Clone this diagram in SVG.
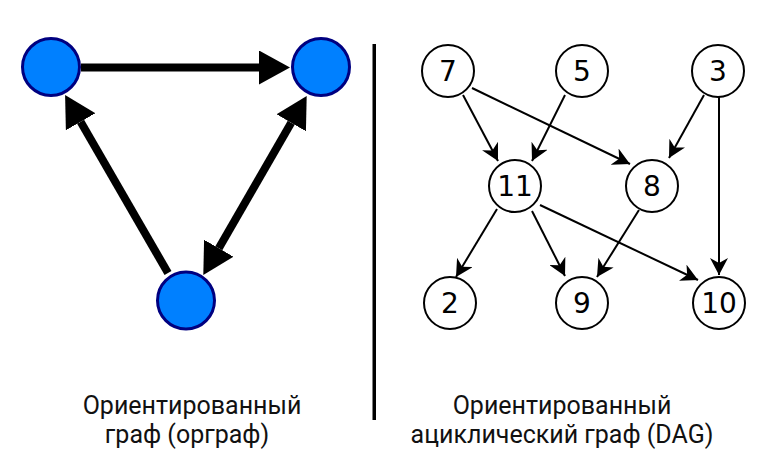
<svg xmlns="http://www.w3.org/2000/svg" width="775" height="465" viewBox="0 0 775 465">
<style>
.bn{fill:#0080ff;stroke:#000080;stroke-width:3}
.dn{fill:#fff;stroke:#000;stroke-width:2}
.big{stroke:#000;stroke-width:8;fill:none}
.thin{stroke:#000;stroke-width:2;fill:none;marker-end:url(#sm)}
.num{font-family:"DejaVu Sans",Verdana,sans-serif;font-size:28px;text-anchor:middle;fill:#000}
.lab{font-family:Roboto,"Liberation Sans",sans-serif;font-size:25px;text-anchor:middle;fill:#111}
</style>
<defs>
<marker id="bg" viewBox="0 0 31 34" refX="0" refY="17" markerWidth="31" markerHeight="34" markerUnits="userSpaceOnUse" orient="auto-start-reverse"><path d="M0,0 L31,17 L0,34 z" fill="#000"/></marker>
<marker id="sm" viewBox="0 0 17 18" refX="17" refY="9" markerWidth="17" markerHeight="18" markerUnits="userSpaceOnUse" orient="auto"><path d="M0,0 L17,9 L0,18 L5,9 z" fill="#000"/></marker>
</defs>
<rect width="775" height="465" fill="#fff"/>
<g id="connectors">
<path class="big" d="M81,67.5 L259,67.5" marker-end="url(#bg)"/>
<path class="big" d="M168,273 L80.6,121.8" marker-end="url(#bg)"/>
<path class="big" d="M291.2,122.8 L218.8,248.2" marker-start="url(#bg)" marker-end="url(#bg)"/>
<path class="thin" d="M463,95 L498,161"/>
<path class="thin" d="M565,95 L532,161"/>
<path class="thin" d="M472,88 L630,164"/>
<path class="thin" d="M704,95 L669,158"/>
<path class="thin" d="M719,97 L719,275"/>
<path class="thin" d="M497,209 L456,277"/>
<path class="thin" d="M532,211 L565,276"/>
<path class="thin" d="M540,205 L698,280"/>
<path class="thin" d="M639,210 L597,277"/>
</g>
<g id="a"><circle class="bn" cx="51" cy="67" r="28.5"/></g>
<g id="b"><circle class="bn" cx="321" cy="67" r="28.5"/></g>
<g id="c"><circle class="bn" cx="186" cy="300.5" r="28.5"/></g>
<rect id="divider" x="372.5" y="44" width="3.5" height="376" fill="#000"/>
<g id="n7"><circle class="dn" cx="448" cy="71" r="26"/><text class="num" x="448" y="81">7</text></g>
<g id="n5"><circle class="dn" cx="582" cy="71" r="26"/><text class="num" x="582" y="81">5</text></g>
<g id="n3"><circle class="dn" cx="718" cy="71" r="26"/><text class="num" x="718" y="81">3</text></g>
<g id="n11"><circle class="dn" cx="515" cy="186" r="26"/><text class="num" x="515" y="196">11</text></g>
<g id="n8"><circle class="dn" cx="652" cy="186" r="26"/><text class="num" x="652" y="196">8</text></g>
<g id="n2"><circle class="dn" cx="450" cy="303" r="26"/><text class="num" x="450" y="313">2</text></g>
<g id="n9"><circle class="dn" cx="582" cy="303" r="26"/><text class="num" x="582" y="313">9</text></g>
<g id="n10"><circle class="dn" cx="719" cy="303" r="26"/><text class="num" x="719" y="313">10</text></g>
<g id="labels">
<text class="lab" x="192" y="414">Ориентированный</text>
<text class="lab" x="187" y="443">граф (орграф)</text>
<text class="lab" x="562" y="414">Ориентированный</text>
<text class="lab" x="562" y="443">ациклический граф (DAG)</text>
</g>
</svg>
